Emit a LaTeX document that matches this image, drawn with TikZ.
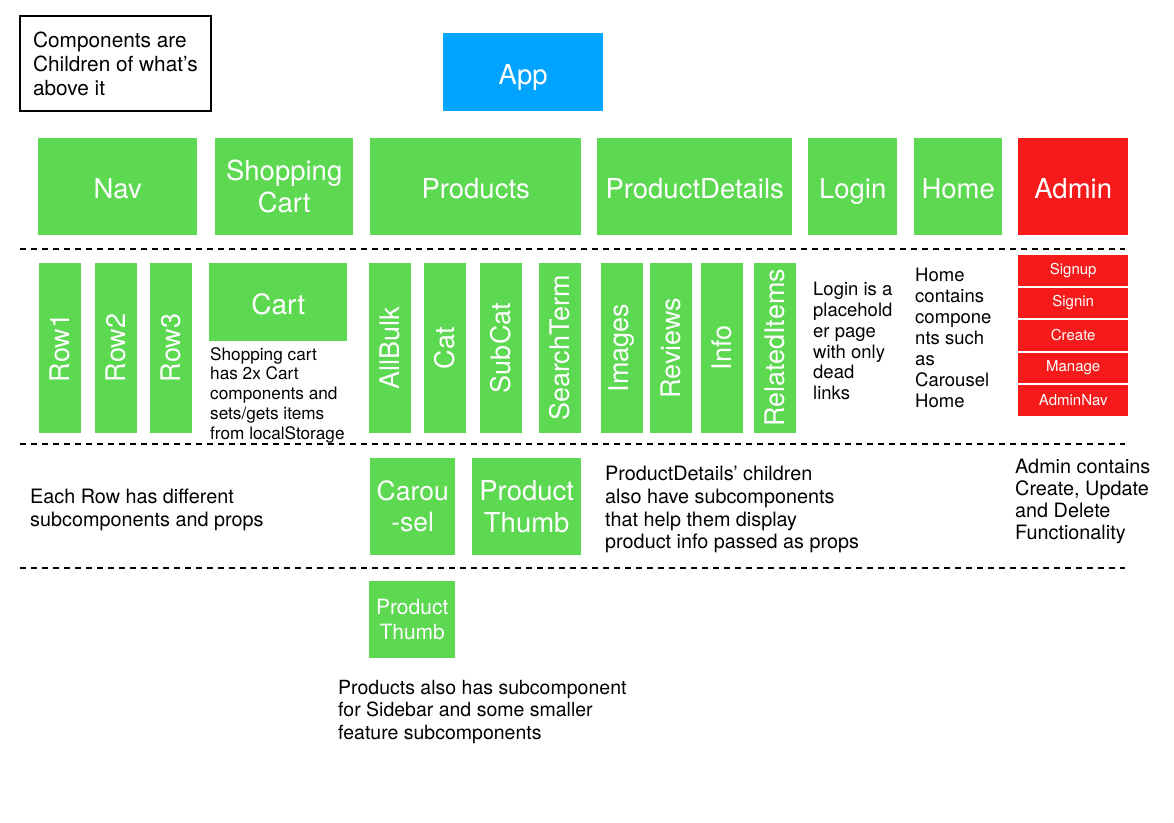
\documentclass[tikz,border=0pt]{standalone}
\usepackage{fontspec}
\setmainfont{TeX Gyre Heros}
\usetikzlibrary{positioning}
\definecolor{compgreen}{RGB}{92,216,81}
\definecolor{adminred}{RGB}{246,26,26}
\definecolor{appblue}{RGB}{0,163,255}
\tikzset{comp/.style={fill=compgreen, text=white, inner sep=0pt, align=center, font=\fontsize{27.5}{32}\selectfont}}
\tikzset{oneline/.style={text height=24pt, text depth=0pt}}
\tikzset{top/.style={comp, anchor=north west, minimum height=97pt}}
\tikzset{vcomp/.style={comp, rotate=90, minimum width=170pt, minimum height=42pt, font=\fontsize{27}{32}\selectfont}}
\tikzset{sub/.style={fill=adminred, text=white, inner sep=0pt, anchor=north west, minimum width=110pt, minimum height=30.5pt, font=\fontsize{15}{18}\selectfont}}
\tikzset{note/.style={anchor=north west, align=left, inner sep=0pt}}
\tikzset{level/.style={dash pattern=on 6pt off 5pt, line width=1.8pt}}

\begin{document}
\begin{tikzpicture}[x=1pt, y=-1pt]
        \useasboundingbox (0,0) rectangle (1174,822);

        \node[draw, line width=1.8pt, anchor=north west, minimum width=191pt, minimum height=95pt, align=left, font=\fontsize{20.8}{24}\selectfont] (legend) at (19,15) {Components are\\Children of what’s\\above it};
        \node[comp, oneline, fill=appblue, anchor=north west, minimum width=160pt, minimum height=78pt] (app) at (443,33) {App};

        % first level
        \node[top, oneline, minimum width=159pt] (nav) at (38,138) {Nav};
        \node[top, minimum width=138pt] (shop) at (215,138) {Shopping\\Cart};
        \node[top, oneline, minimum width=211pt] (products) at (370,138) {Products};
        \node[top, oneline, minimum width=195pt] (pdetails) at (597,138) {ProductDetails};
        \node[top, oneline, minimum width=89pt] (login) at (808,138) {Login};
        \node[top, oneline, minimum width=88pt] (home) at (914,138) {Home};
        \node[top, oneline, minimum width=110pt, fill=adminred] (admin) at (1018,138) {Admin};

        \draw[level] (20,249) -- (1125,249);

        % second level
        \node[vcomp] (row1) at (59.5,348) {Row1};
        \node[vcomp] (row2) at (115.5,348) {Row2};
        \node[vcomp] (row3) at (171,348) {Row3};
        \node[comp, oneline, anchor=north west, minimum width=138pt, minimum height=78pt, font=\fontsize{28}{32}\selectfont] (cart) at (209,263) {Cart};
        \node[note, font=\fontsize{17.2}{19.8}\selectfont] (cartnote) at (210,347) {Shopping cart\\has 2x Cart\\components and\\sets/gets items\\from localStorage};

        \node[vcomp] (allbulk) at (390,348) {AllBulk};
        \node[vcomp] (cat) at (444.5,348) {Cat};
        \node[vcomp] (subcat) at (500.5,348) {SubCat};
        \node[vcomp] (search) at (560,348) {SearchTerm};

        \node[vcomp] (images) at (622,348) {Images};
        \node[vcomp] (reviews) at (671,348) {Reviews};
        \node[vcomp] (info) at (722,348) {Info};
        \node[vcomp] (related) at (774.5,348) {RelatedItems};

        \node[note, font=\fontsize{18.5}{20.8}\selectfont] (loginnote) at (813,282) {Login is a\\placehold\\er page\\with only\\dead\\links};
        \node[note, font=\fontsize{18.5}{21}\selectfont] (homenote) at (915,268) {Home\\contains\\compone\\nts such\\as\\Carousel\\Home};

        \node[sub] (signup) at (1018,255) {Signup};
        \node[sub] (signin) at (1018,287.5) {Signin};
        \node[sub] (create) at (1018,320) {Create};
        \node[sub] (manage) at (1018,352.5) {Manage};
        \node[sub] (adminnav) at (1018,385) {AdminNav};

        \draw[level] (20,444) -- (1125,444);

        % third level
        \node[note, font=\fontsize{19.8}{23}\selectfont] (rownote) at (30,489) {Each Row has different\\subcomponents and props};
        \node[comp, anchor=north west, minimum width=85pt, minimum height=97pt, font=\fontsize{26.5}{31}\selectfont] (carousel) at (370,458) {Carou\\-sel};
        \node[comp, anchor=north west, minimum width=109pt, minimum height=97pt] (thumb) at (472,458) {Product\\Thumb};
        \node[note, font=\fontsize{19.8}{22.7}\selectfont] (pdnote) at (605,466) {ProductDetails’ children\\also have subcomponents\\that help them display\\product info passed as props};
        \node[note, font=\fontsize{19.8}{22}\selectfont] (adminnote) at (1015,459) {Admin contains\\Create, Update\\and Delete\\Functionality};

        \draw[level] (20,568) -- (1125,568);

        % fourth level
        \node[comp, anchor=north west, minimum width=86pt, minimum height=77pt, font=\fontsize{21}{25}\selectfont] (thumbsmall) at (369,581) {Product\\Thumb};
        \node[note, font=\fontsize{19.5}{22.5}\selectfont] (prodnote) at (338,680) {Products also has subcomponent\\for Sidebar and some smaller\\feature subcomponents};
    \end{tikzpicture}
\end{document}
